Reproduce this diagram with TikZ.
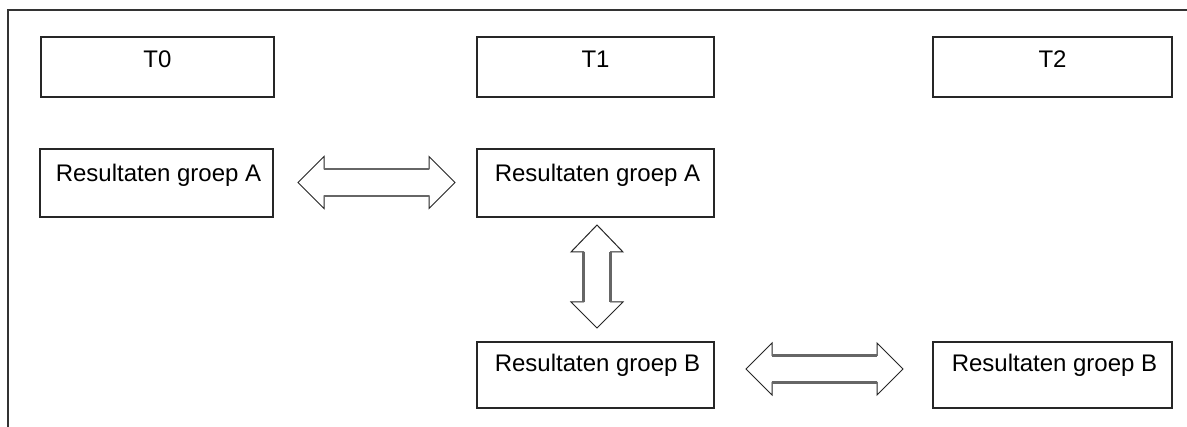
\documentclass[tikz,border=0pt]{standalone}
\usepackage{fontspec}
\setmainfont{Liberation Sans}
\tikzset{
  box/.style={draw=black!85, line width=2pt, anchor=north west, inner sep=0pt},
  tbox/.style={box, minimum height=60pt},
  rbox/.style={box, minimum height=67pt},
  lbl/.style={font=\fontsize{24}{28}\selectfont, anchor=base, inner sep=0pt},
  frame/.style={draw=black!80, line width=2.2pt},
  arrowline/.style={draw=black!85, line width=1pt, line join=miter},
  shaftline/.style={draw=black!60, line width=2.6pt},
}
\newcommand\harrowshape[4]{%
  \coordinate (#4s) at (#1,#3);
  \coordinate (#4e) at (#2,#3);
  \draw[arrowline] (#4s) -- (#1+26,#3-26) -- (#1+26,#3-13.5) -- (#2-26,#3-13.5) -- (#2-26,#3-26) -- (#4e)
     -- (#2-26,#3+26) -- (#2-26,#3+13.5) -- (#1+26,#3+13.5) -- (#1+26,#3+26) -- cycle;
  \draw[shaftline] (#1+26,#3-13.5) -- (#2-26,#3-13.5);
  \draw[shaftline] (#1+26,#3+13.5) -- (#2-26,#3+13.5);
}
\newcommand\varrowshape[4]{%
  \coordinate (#4s) at (#3,#1);
  \coordinate (#4e) at (#3,#2);
  \draw[arrowline] (#4s) -- (#3+26,#1+27) -- (#3+13.5,#1+27) -- (#3+13.5,#2-26) -- (#3+26,#2-26) -- (#4e)
     -- (#3-26,#2-26) -- (#3-13.5,#2-26) -- (#3-13.5,#1+27) -- (#3-26,#1+27) -- cycle;
  \draw[shaftline] (#3+13.5,#1+27) -- (#3+13.5,#2-26);
  \draw[shaftline] (#3-13.5,#1+27) -- (#3-13.5,#2-26);
}
\begin{document}
\begin{tikzpicture}[x=1pt,y=-1pt]
\useasboundingbox (0,0) rectangle (1187,427);
\clip (0,0) rectangle (1187,427);
\fill[white] (0,0) rectangle (1187,427);
\draw[frame] (8,440) -- (8,10) -- (1200,10);

% time row
\node[tbox, minimum width=233pt] (t0) at (40,36) {};
\node[tbox, minimum width=237pt] (t1) at (476,36) {};
\node[tbox, minimum width=239pt] (t2) at (932,36) {};
\node[lbl] (t0l) at ([yshift=-32pt]t0.north) {T0};
\node[lbl] (t1l) at ([yshift=-32pt]t1.north) {T1};
\node[lbl] (t2l) at ([yshift=-32pt]t2.north) {T2};

% groep A row
\node[rbox, minimum width=233pt, minimum height=68pt] (a0) at (39,148) {};
\node[rbox, minimum width=237pt, minimum height=68pt] (a1) at (476,148) {};
\node[lbl] (a0l) at ([xshift=2pt,yshift=-34pt]a0.north) {Resultaten groep A};
\node[lbl] (a1l) at ([xshift=2pt,yshift=-34pt]a1.north) {Resultaten groep A};

% groep B row
\node[rbox, minimum width=237pt, minimum height=66pt] (b1) at (476,341) {};
\node[rbox, minimum width=239pt, minimum height=66pt] (b2) at (932,341) {};
\node[lbl] (b1l) at ([xshift=2pt,yshift=-31pt]b1.north) {Resultaten groep B};
\node[lbl] (b2l) at ([xshift=2pt,yshift=-31pt]b2.north) {Resultaten groep B};

% double arrows
\harrowshape{298}{455}{182.5}{arA}
\harrowshape{746}{903}{369}{arB}
\varrowshape{225}{328}{597}{arV}
\end{tikzpicture}
\end{document}
